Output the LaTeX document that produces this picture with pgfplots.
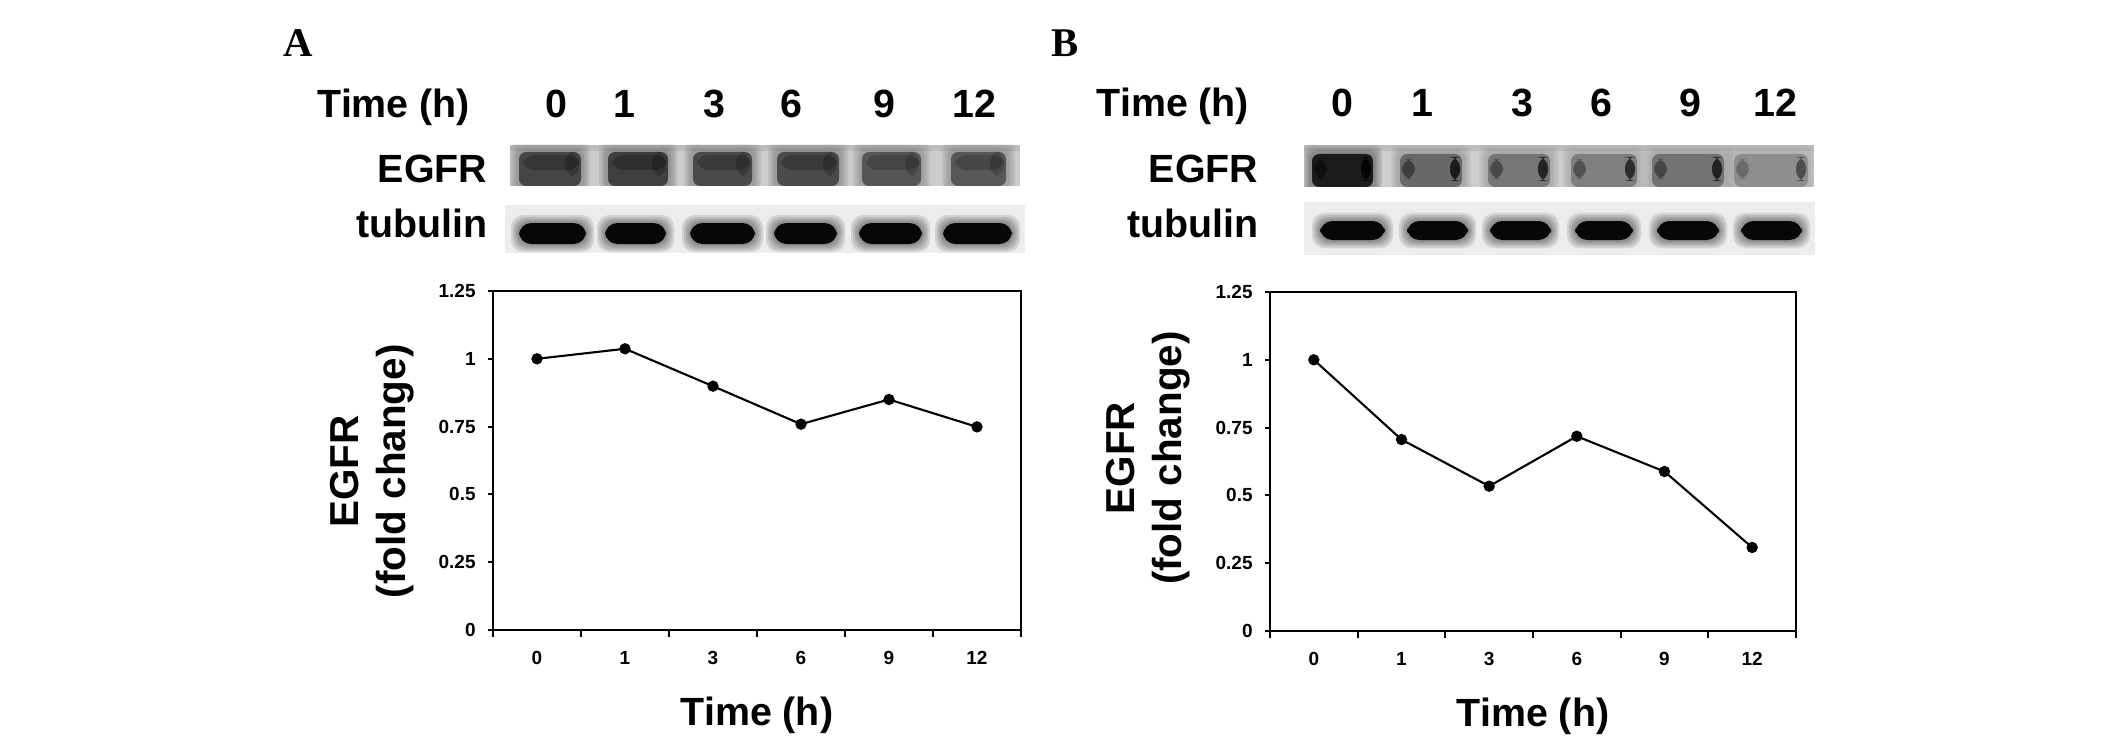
\documentclass[border=0pt]{standalone}
\usepackage{pgfplots}
\pgfplotsset{compat=1.18}
\usepackage{fontspec}
\setmainfont{Liberation Sans}
\newfontfamily\panelfont{Liberation Serif}

% soft blot band: x1 x2 y1 y2 opacity corner halo-steps
\newcommand{\blotband}[7]{%
  \foreach \g in {#7}{%
    \pgfmathsetmacro\op{#5*0.12}%
    \fill[black, fill opacity=\op, rounded corners=#6] ({#1-\g},{#3-\g}) rectangle ({#2+\g},{#4+\g});}%
  \fill[black, fill opacity=#5, rounded corners=#6] (#1,#3) rectangle (#2,#4);}

\pgfplotsset{egfrax/.style={
  scale only axis, anchor=south west,
  xmin=-0.5, xmax=5.5, ymin=0, ymax=1.25,
  xtick={0,...,5}, xticklabels={0,1,3,6,9,12},
  minor xtick={-0.5,0.5,...,5.5},
  ytick={0,0.25,0.5,0.75,1,1.25}, yticklabels={0,0.25,0.5,0.75,1,1.25},
  tick align=outside, xtick pos=bottom, ytick pos=left,
  major x tick style={draw=none},
  major tick length=0.5mm, minor tick length=0.7mm,
  axis line style={line width=0.6pt},
  tick style={line width=0.6pt, black},
  ticklabel style={font=\bfseries\fontsize{5.4}{6}\selectfont},
  xticklabel style={yshift=-0.4mm},
  /pgf/number format/assume math mode=true,
  xlabel={Time (h)},
  ylabel={EGFR\\(fold change)},
  xlabel style={font=\bfseries\fontsize{11.2}{13}\selectfont,
    at={(axis description cs:0.5,0)}, anchor=base, yshift=-9.5mm},
  clip=false,
}}

\begin{document}
\begin{tikzpicture}
\begin{scope}[x=0.1mm,y=-0.1mm]
\path[use as bounding box, fill=white] (0,0) rectangle (2126,744);

% panel letters
\node[anchor=base west, inner sep=0, font=\panelfont\bfseries\fontsize{11.6}{13}\selectfont] at (283,57) {A};
\node[anchor=base west, inner sep=0, font=\panelfont\bfseries\fontsize{11.6}{13}\selectfont] at (1051,57) {B};

% blot labels A
\begin{scope}[every node/.style={inner sep=0, font=\bfseries\fontsize{11.2}{13}\selectfont}]
\node[anchor=base west] at (317,118) {Time (h)};
\foreach \x/\t in {556/0,624/1,714/3,791/6,884/9,974/12}
  \node[anchor=base] at (\x,118) {\t};
\node[anchor=base east] at (488,183) {EGFR};
\node[anchor=base east] at (488,238) {tubulin};
% blot labels B
\node[anchor=base west] at (1096,117) {Time (h)};
\foreach \x/\t in {1342/0,1422/1,1522/3,1601/6,1690/9,1775/12}
  \node[anchor=base] at (\x,117) {\t};
\node[anchor=base east] at (1259,183) {EGFR};
\node[anchor=base east] at (1259,238) {tubulin};
\end{scope}

% blot A, EGFR
\begin{scope}
\clip (510,145) rectangle (1020,186);
\fill[gray!40] (510,145) rectangle (1020,186);
\fill[gray!52] (510,145) rectangle (1020,151);
\foreach \a/\b/\o in {519/581/0.55,608/668/0.58,693/752/0.52,777/839/0.52,862/921/0.47,951/1006/0.46}{
  \blotband{\a}{\b}{152}{186}{\o}{2pt}{9,7,5,3}
  \pgfmathsetmacro\oo{\o*0.4}
  \fill[black, fill opacity=\oo, rounded corners=3pt] (\a+4,155) rectangle (\b-2,170);
  \fill[black, fill opacity=\oo, rounded corners=3pt] (\b-16,152) rectangle (\b-2,176);
}
\end{scope}
% blot A, tubulin
\begin{scope}
\clip (505,205) rectangle (1025,253);
\fill[gray!14] (505,205) rectangle (1025,253);
\foreach \a/\b in {519/586,605/666,690/755,774/837,859/922,943/1012}
  \blotband{\a}{\b}{223}{244}{0.95}{3.5pt}{8,6,4,2};
\end{scope}

% blot B, EGFR
\begin{scope}
\clip (1304,145) rectangle (1814,187);
\fill[gray!38] (1304,145) rectangle (1814,187);
\fill[gray!50] (1304,145) rectangle (1814,151);
\foreach \a/\b/\o/\e in {1312/1373/0.8/0.85,1400/1462/0.38/0.75,1488/1550/0.32/0.7,1571/1637/0.28/0.65,1652/1724/0.34/0.7,1734/1808/0.22/0.45}{
  \blotband{\a}{\b}{154}{187}{\o}{2pt}{9,7,5,3}
  \fill[black, fill opacity=\e, rounded corners=3pt] (\b-12,157) rectangle (\b-2,181);
  \pgfmathsetmacro\oo{\e*0.55}
  \fill[black, fill opacity=\oo, rounded corners=3pt] (\a+2,159) rectangle (\a+15,179);
}
\end{scope}
% blot B, tubulin
\begin{scope}
\clip (1304,202) rectangle (1815,255);
\fill[gray!14] (1304,202) rectangle (1815,255);
\foreach \a/\b in {1320/1385,1407/1468,1490/1551,1575/1633,1657/1719,1741/1802}
  \blotband{\a}{\b}{221}{240}{0.95}{3.5pt}{8,6,4,2};
\end{scope}
\end{scope}

% chart A
\begin{axis}[egfrax, at={(49.3mm,-63.0mm)}, width=52.8mm, height=33.9mm,
  ylabel style={font=\bfseries\fontsize{11.5}{13.4}\selectfont, align=center,
    at={(axis description cs:0,0.468)}, anchor=center, yshift=12.05mm}]
\addplot[black, line width=0.6pt, mark=*, mark size=1.3pt]
  coordinates {(0,1.0) (1,1.037) (2,0.899) (3,0.759) (4,0.85) (5,0.749)};
\end{axis}

% chart B
\begin{axis}[egfrax, at={(127.0mm,-63.1mm)}, width=52.6mm, height=33.9mm,
  ylabel style={font=\bfseries\fontsize{11.5}{13.4}\selectfont, align=center,
    at={(axis description cs:0,0.51)}, anchor=center, yshift=12.15mm}]
\addplot[black, line width=0.6pt, mark=*, mark size=1.3pt]
  coordinates {(0,1.0) (1,0.706) (2,0.534) (3,0.718) (4,0.588) (5,0.308)};
\end{axis}
\end{tikzpicture}
\end{document}
